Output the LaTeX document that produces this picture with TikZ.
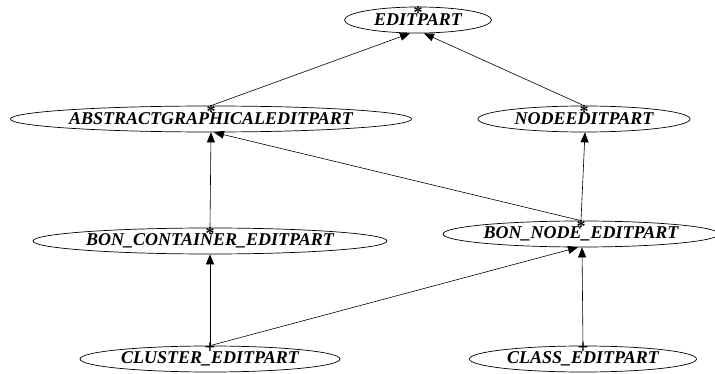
\documentclass[tikz,border=0pt]{standalone}
\usepackage{fontspec}
\setmainfont{Liberation Serif}
\usetikzlibrary{shapes.geometric,arrows.meta}
\begin{document}
\begin{tikzpicture}[x=1pt,y=1pt,
  cls/.style={ellipse,draw,line width=0.7pt,inner sep=0pt,minimum height=26pt,
    font=\fontsize{18}{20}\selectfont\bfseries\itshape},
  inh/.style={line width=0.6pt,-{Triangle[length=10pt,width=8pt]}},
  tailstar/.style={inner sep=0pt,font=\fontsize{18}{18}\selectfont\bfseries,yshift=-6pt},
  tailplus/.style={inner sep=0pt,font=\fontsize{19}{19}\selectfont\bfseries,yshift=-2pt}]
\useasboundingbox (0,0) rectangle (715,-374);

% class nodes
\node[cls,minimum width=147pt] (edit) at (418,-20) {EDITPART};
\node[cls,minimum width=398pt] (agep) at (211,-119) {ABSTRACTGRAPHICALEDITPART};
\node[cls,minimum width=212pt] (node) at (584,-119) {NODEEDITPART};
\node[cls,minimum width=354pt] (bcon) at (210,-241) {BON\_CONTAINER\_EDITPART};
\node[cls,minimum width=276pt] (bnod) at (581,-234) {BON\_NODE\_EDITPART};
\node[cls,minimum width=260pt] (clus) at (210,-359) {CLUSTER\_EDITPART};
\node[cls,minimum width=227pt] (clas) at (583,-359) {CLASS\_EDITPART};

% inheritance edges
\draw[inh] (agep.north) -- ([xshift=-8pt]edit.south);
\draw[inh] (node.north) -- ([xshift=6pt]edit.south);
\draw[inh] (bcon.north) -- (agep.south);
\draw[inh] (bnod.north) -- ([xshift=3pt]agep.south);
\draw[inh] (bnod.north) -- ([xshift=1pt]node.south);
\draw[inh] (clus.north) -- (bcon.south);
\draw[inh] (clus.north) -- ([xshift=-3pt]bnod.south);
\draw[inh] (clas.north) -- ([xshift=1pt]bnod.south);

% tail markers
\node[tailstar] (s1) at (edit.north) {*};
\node[tailstar] (s2) at (agep.north) {*};
\node[tailstar] (s3) at (node.north) {*};
\node[tailstar] (s4) at (bcon.north) {*};
\node[tailstar] (s5) at (bnod.north) {*};
\node[tailplus] (p1) at (clus.north) {+};
\node[tailplus] (p2) at (clas.north) {+};
\end{tikzpicture}
\end{document}
